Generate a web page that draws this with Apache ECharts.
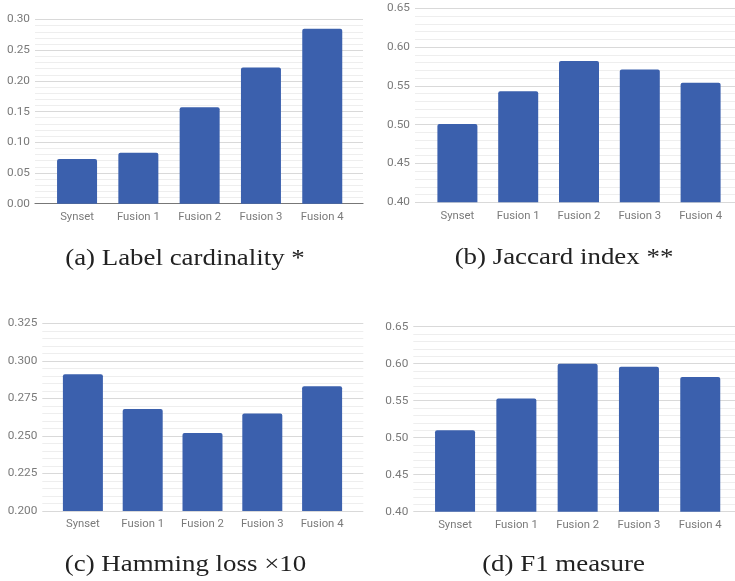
<!DOCTYPE html>
<html><head><meta charset="utf-8">
<script src="https://cdn.jsdelivr.net/npm/echarts@6/dist/echarts.min.js"></script>
<style>html,body{margin:0;padding:0;background:#fff}#c{width:735px;height:581px}</style>
</head><body><div id="c"></div>
<script>
const categories = ['Synset', 'Fusion 1', 'Fusion 2', 'Fusion 3', 'Fusion 4'];
const labelCardinality = [0.073, 0.083, 0.157, 0.222, 0.285];
const jaccardIndex = [0.501, 0.543, 0.582, 0.571, 0.554];
const hammingLoss = [0.291, 0.268, 0.252, 0.265, 0.283];
const f1Measure = [0.510, 0.553, 0.600, 0.596, 0.582];
const captions = ['(a) Label cardinality *', '(b) Jaccard index **', '(c) Hamming loss \u00d710', '(d) F1 measure'];
const axisRanges = [
  {min: 0, max: 0.30, interval: 0.05, decimals: 2},
  {min: 0.40, max: 0.65, interval: 0.05, decimals: 2},
  {min: 0.200, max: 0.325, interval: 0.025, decimals: 3},
  {min: 0.40, max: 0.65, interval: 0.05, decimals: 2}
];
const seriesValues = [labelCardinality, jaccardIndex, hammingLoss, f1Measure];

// layout (not data)
const layout = [
  {wide: {left: 35, top: 19.5, width: 328, height: 184.2}, narrowLeft: 46.4, narrowWidth: 306.5, baseline: true, cap: [185, 259]},
  {wide: {left: 415, top: 8.3, width: 320, height: 194}, narrowLeft: 427, narrowWidth: 304, baseline: false, cap: [564, 258]},
  {wide: {left: 42.3, top: 323.3, width: 321, height: 187.7}, narrowLeft: 53, narrowWidth: 299, baseline: false, cap: [185.5, 565]},
  {wide: {left: 413.3, top: 326.7, width: 321.7, height: 185}, narrowLeft: 424.4, narrowWidth: 306.5, baseline: false, cap: [563.5, 565]}
];

const BAR = '#3b60ad';
const LABEL = '#7a7a7a';
const grids = [], xAxes = [], yAxes = [], series = [], graphics = [];
layout.forEach((L, i) => {
  const r = axisRanges[i];
  grids.push({left: L.wide.left, top: L.wide.top, width: L.wide.width, height: L.wide.height, containLabel: false});
  grids.push({left: L.narrowLeft, top: L.wide.top, width: L.narrowWidth, height: L.wide.height, containLabel: false});
  const gw = 2 * i, gn = 2 * i + 1;
  xAxes.push({gridIndex: gw, type: 'category', data: [''], show: L.baseline,
    axisLine: {show: L.baseline, lineStyle: {color: '#777', width: 1.2}}, axisTick: {show: false}, axisLabel: {show: false}, splitLine: {show: false}});
  xAxes.push({gridIndex: gn, type: 'category', data: categories,
    axisLine: {show: false}, axisTick: {show: false},
    axisLabel: {color: LABEL, fontFamily: 'Roboto', fontSize: 11.3, margin: 8}});
  yAxes.push({gridIndex: gw, type: 'value', min: r.min, max: r.max, interval: r.interval,
    axisLine: {show: false}, axisTick: {show: false},
    axisLabel: {color: LABEL, fontFamily: 'Roboto', fontSize: 11.8, margin: 5, formatter: v => v.toFixed(r.decimals)},
    splitLine: {show: true, lineStyle: {color: '#d9d9d9', width: 1}},
    minorTick: {show: false, splitNumber: 5},
    minorSplitLine: {show: true, lineStyle: {color: '#eeeeee', width: 1}}});
  yAxes.push({gridIndex: gn, type: 'value', min: r.min, max: r.max, show: false, splitLine: {show: false}});
  series.push({type: 'bar', xAxisIndex: gn, yAxisIndex: gn, data: seriesValues[i], barWidth: 40,
    itemStyle: {color: BAR, borderRadius: [2, 2, 0, 0]}, z: 3, animation: false});
  graphics.push({type: 'text', x: L.cap[0], y: L.cap[1], scaleX: 1.12, style: {text: captions[i], fill: '#222',
    font: '24px "Liberation Serif"', textAlign: 'center', textVerticalAlign: 'middle'}});
});

const chart = echarts.init(document.getElementById('c'), null, {renderer: 'canvas'});
chart.setOption({animation: false, grid: grids, xAxis: xAxes, yAxis: yAxes, series: series, graphic: graphics});
</script></body></html>
